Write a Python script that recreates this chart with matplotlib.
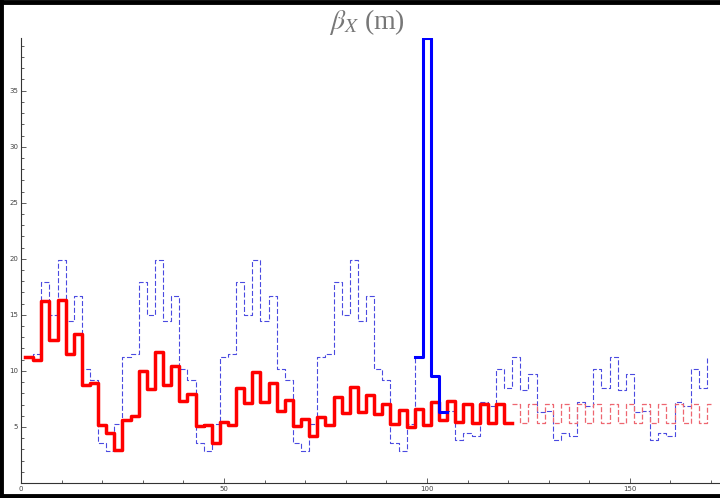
import matplotlib
matplotlib.use("Agg")
import matplotlib.pyplot as plt
from matplotlib.lines import Line2D

plt.rcParams['lines.scale_dashes'] = False
plt.rcParams['mathtext.fontset'] = 'stix'

# beta_x along the line, one value per 2 m element (step starts at s)
red_s = [1, 3, 5, 7, 9, 11, 13, 15, 17, 19, 21, 23,
         25, 27, 29, 31, 33, 35, 37, 39, 41, 43, 45, 47,
         49, 51, 53, 55, 57, 59, 61, 63, 65, 67, 69, 71,
         73, 75, 77, 79, 81, 83, 85, 87, 89, 91, 93, 95,
         97, 99, 101, 103, 105, 107, 109, 111, 113, 115, 117, 119, 121]
red_beta = [11.25, 11.0, 16.25, 12.8, 16.3, 11.55, 13.3, 8.72, 8.96, 5.15, 4.47, 2.92,
            5.6, 5.95, 10.0, 8.43, 11.7, 8.72, 10.45, 7.32, 7.98, 5.09, 5.2, 3.6,
            5.45, 5.2, 8.48, 7.14, 9.86, 7.23, 8.93, 6.43, 7.38, 5.06, 5.75, 4.2,
            5.9, 5.2, 7.68, 6.25, 8.57, 6.3, 7.83, 6.2, 7.09, 5.3, 6.5, 5.0,
            6.58, 5.15, 7.23, 5.6, 7.32, 5.45, 7.09, 5.39, 7.09, 5.39, 7.09, 5.39, 5.39]

# periodic lattice (thin dashed blue)
lat_s = [1, 3, 5, 7, 9, 11, 13, 15, 17, 19, 21, 23,
         25, 27, 29, 31, 33, 35, 37, 39, 41, 43, 45, 47,
         49, 51, 53, 55, 57, 59, 61, 63, 65, 67, 69, 71,
         73, 75, 77, 79, 81, 83, 85, 87, 89, 91, 93, 95,
         97, 99, 101, 103, 105,
         107, 109, 111, 113, 115, 117, 119, 121, 123, 125, 127, 129,
         131, 133, 135, 137, 139, 141, 143, 145, 147, 149, 151, 153,
         155, 157, 159, 161, 163, 165, 167, 169]
lat_beta = [11.25, 11.55, 17.9, 14.97, 19.9, 14.44, 16.67, 10.2, 9.17, 3.57, 2.83, 5.24,
            11.25, 11.55, 17.9, 14.97, 19.9, 14.44, 16.67, 10.2, 9.17, 3.57, 2.83, 5.24,
            11.25, 11.55, 17.9, 14.97, 19.9, 14.44, 16.67, 10.2, 9.17, 3.57, 2.83, 5.24,
            11.25, 11.55, 17.9, 14.97, 19.9, 14.44, 16.67, 10.2, 9.17, 3.57, 2.83, 5.24,
            11.25, 39.7, 9.55, 6.3, 6.4,
            3.8, 4.47, 4.17, 7.2, 6.9, 10.2, 8.5, 11.2, 8.3, 9.7, 6.3, 6.45,
            3.8, 4.47, 4.17, 7.2, 6.9, 10.2, 8.5, 11.2, 8.3, 9.7, 6.3, 6.45,
            3.8, 4.47, 4.17, 7.2, 6.9, 10.2, 8.5, 11.2]

# matching insertion (thick blue)
ins_s = [97, 99, 101, 103, 105]
ins_beta = [11.25, 39.7, 9.55, 6.3, 6.3]

# continuation of the matched line (light red dashed)
cont_s = [121, 123, 125, 127, 129, 131, 133, 135, 137, 139, 141, 143, 145,
          147, 149, 151, 153, 155, 157, 159, 161, 163, 165, 167, 169, 170.2]
cont_beta = [7.09, 5.39, 7.09, 5.39, 7.09, 5.39, 7.09, 5.39, 7.09, 5.39, 7.09, 5.39, 7.09,
             5.39, 7.09, 5.39, 7.09, 5.39, 7.09, 5.39, 7.09, 5.39, 7.09, 5.39, 7.09, 7.09]

x_ticks = [0, 50, 100, 150]
y_ticks = [5, 10, 15, 20, 25, 30, 35]

fig = plt.figure(figsize=(7.2, 4.98), dpi=100)
ax = fig.add_axes([21 / 720, 1 - 483 / 498, 699 / 720, 445 / 498])

ax.step(lat_s, lat_beta, where='post', color='#4a4ae0', lw=0.8, dashes=(3.6, 1.6), zorder=2)
ax.step(cont_s, cont_beta, where='post', color='#ee6670', lw=0.9, dashes=(3.6, 1.6), zorder=2)
ax.step(red_s, red_beta, where='post', color='#ff0000', lw=2.5, zorder=3)
ax.step(ins_s, ins_beta, where='post', color='#0000ff', lw=2.2, zorder=4)

ax.set_xlim(0, 172.2)
ax.set_ylim(0, 39.7)
ax.set_xticks(x_ticks)
ax.set_xticks(range(0, 171, 10), minor=True)
ax.set_yticks(y_ticks)
ax.set_yticks(range(1, 40), minor=True)

for side in ['top', 'right']:
    ax.spines[side].set_visible(False)
for side in ['left', 'bottom']:
    ax.spines[side].set_linewidth(0.8)
    ax.spines[side].set_color('#333333')

ax.tick_params(which='both', direction='in', colors='#444444', labelsize=5, width=0.6)
ax.tick_params(which='major', length=3.5, pad=2)
ax.tick_params(which='minor', length=2)
ax.tick_params(axis='x', pad=2)

fig.text(367 / 720, 1 - 22 / 498, r'$\beta_X$ (m)', ha='center', va='center',
         fontsize=20, color='#777777', family='Liberation Serif')

# screenshot frame: left, top and bottom edges only
fig.lines.append(Line2D([0.002, 0.002], [0, 1], transform=fig.transFigure, color='black', lw=3.5))
fig.lines.append(Line2D([0, 1], [0.996, 0.996], transform=fig.transFigure, color='black', lw=3.5))
fig.lines.append(Line2D([0, 1], [0.005, 0.005], transform=fig.transFigure, color='black', lw=3.5))

fig.savefig('out.png', dpi=100)
